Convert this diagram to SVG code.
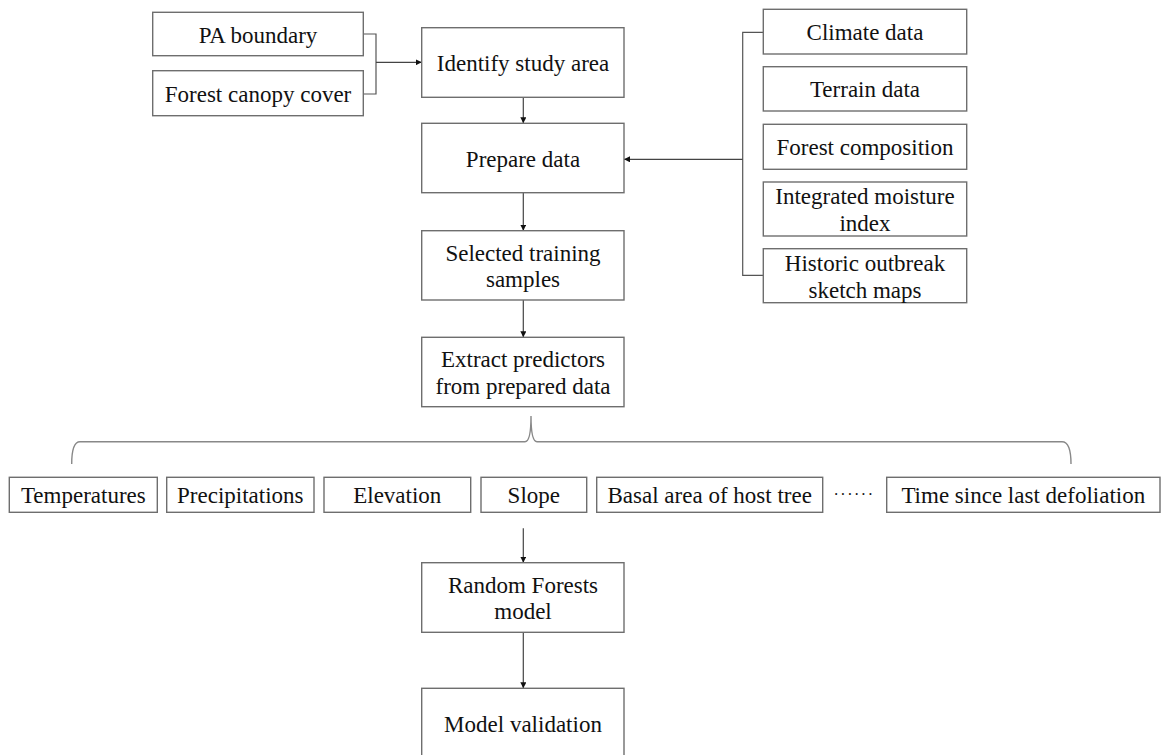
<svg xmlns="http://www.w3.org/2000/svg" width="1163" height="755" viewBox="0 0 1163 755">
<defs>
<marker id="arr" viewBox="0 0 10 10" refX="10" refY="5" markerWidth="6" markerHeight="6" markerUnits="userSpaceOnUse" orient="auto">
<path d="M0,0 L10,5 L0,10 Z" fill="#111"/>
</marker>
<style>
.box{fill:#fff;stroke:#6e6e6e;stroke-width:1.4}
.t{font-family:"Liberation Serif","Times New Roman",serif;font-size:23px;fill:#111;text-anchor:middle}
.c{fill:none;stroke:#555;stroke-width:1.2}
.a{fill:none;stroke:#444;stroke-width:1.2;marker-end:url(#arr)}
.br{fill:none;stroke:#888;stroke-width:1.4}
</style>
</defs>
<rect width="1163" height="755" fill="#fff"/>
<g id="connectors">
<path class="c" d="M363.3,34 H376 V94 H363.3"/>
<path class="a" d="M376,62.3 H421.7"/>
<path class="a" d="M523.3,97.3 V123.3"/>
<path class="c" d="M763.3,32.3 H742.7 V275.3 H763.3"/>
<path class="a" d="M742.7,159.3 H624"/>
<path class="a" d="M523.3,192.7 V230.7"/>
<path class="a" d="M523.3,300 V337.3"/>
<path class="br" d="M71.7,464 Q71.7,441.7 80,441.7 L525,441.7 Q531,441.7 531,416 Q531,441.7 537,441.7 L1062,441.7 Q1071,441.7 1071,464"/>
<path class="a" d="M523.3,528.3 V562.7"/>
<path class="a" d="M523.3,632.3 V688.3"/>
</g>
<g id="pa-boundary"><rect class="box" x="152.7" y="12.3" width="210.6" height="43.4"/><text class="t" x="258" y="42.5">PA boundary</text></g>
<g id="forest-canopy"><rect class="box" x="152.7" y="70.7" width="210.6" height="45"/><text class="t" x="258" y="101.7">Forest canopy cover</text></g>
<g id="identify"><rect class="box" x="421.7" y="27.7" width="202.3" height="69.6"/><text class="t" x="523" y="71">Identify study area</text></g>
<g id="prepare"><rect class="box" x="421.7" y="123.3" width="202.3" height="69.4"/><text class="t" x="523" y="166.5">Prepare data</text></g>
<g id="selected"><rect class="box" x="421.7" y="230.7" width="202.3" height="69.3"/><text class="t" x="523" y="260.5">Selected training</text><text class="t" x="523" y="287">samples</text></g>
<g id="extract"><rect class="box" x="421.7" y="337.3" width="202.3" height="69.4"/><text class="t" x="523" y="367">Extract predictors</text><text class="t" x="523" y="393.5">from prepared data</text></g>
<g id="climate"><rect class="box" x="763.3" y="9.3" width="203.4" height="44.7"/><text class="t" x="865" y="40">Climate data</text></g>
<g id="terrain"><rect class="box" x="763.3" y="66.7" width="203.4" height="44.3"/><text class="t" x="865" y="97">Terrain data</text></g>
<g id="forest-comp"><rect class="box" x="763.3" y="124.3" width="203.4" height="45"/><text class="t" x="865" y="155">Forest composition</text></g>
<g id="moisture"><rect class="box" x="763.3" y="182" width="203.4" height="54"/><text class="t" x="865" y="204">Integrated moisture</text><text class="t" x="865" y="230.5">index</text></g>
<g id="historic"><rect class="box" x="763.3" y="248.7" width="203.4" height="54"/><text class="t" x="865" y="271">Historic outbreak</text><text class="t" x="865" y="297.5">sketch maps</text></g>
<g id="temperatures"><rect class="box" x="9.3" y="477.3" width="148" height="35"/><text class="t" x="83.3" y="503">Temperatures</text></g>
<g id="precipitations"><rect class="box" x="166.7" y="477.3" width="147.3" height="35"/><text class="t" x="240.3" y="503">Precipitations</text></g>
<g id="elevation"><rect class="box" x="324" y="477.3" width="146.7" height="35"/><text class="t" x="397.3" y="503">Elevation</text></g>
<g id="slope"><rect class="box" x="481" y="477.3" width="105.7" height="35"/><text class="t" x="533.8" y="503">Slope</text></g>
<g id="basal"><rect class="box" x="596.7" y="477.3" width="226" height="35"/><text class="t" x="709.7" y="503">Basal area of host tree</text></g>
<g id="ellipsis"><text class="t" x="854" y="500" style="font-size:16px;letter-spacing:1.5px">······</text></g>
<g id="time-since"><rect class="box" x="886.7" y="477.3" width="273.3" height="35"/><text class="t" x="1023.3" y="503">Time since last defoliation</text></g>
<g id="random-forests"><rect class="box" x="421.7" y="562.7" width="202.3" height="69.6"/><text class="t" x="523" y="592.5">Random Forests</text><text class="t" x="523" y="619">model</text></g>
<g id="model-validation"><rect class="box" x="421.7" y="688.3" width="202.3" height="80"/><text class="t" x="523" y="732">Model validation</text></g>
</svg>
